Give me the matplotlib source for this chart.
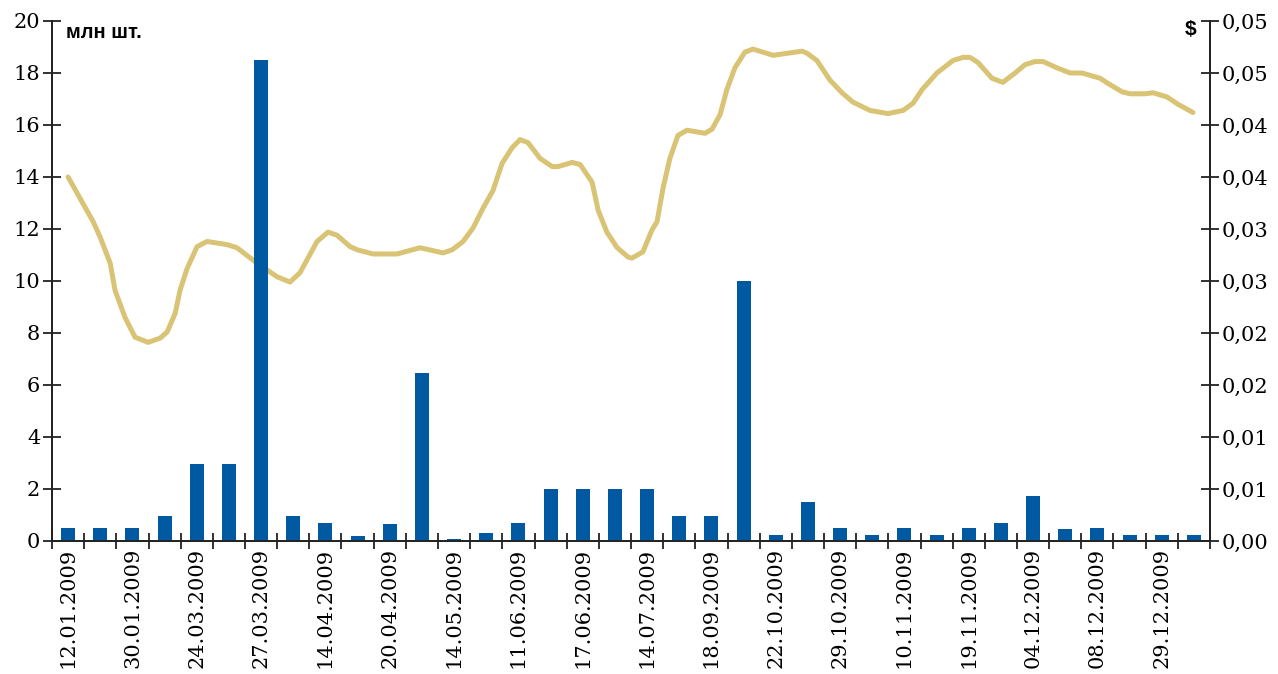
import matplotlib
matplotlib.use("Agg")
import matplotlib.pyplot as plt
import numpy as np

# Trading volume, mln pcs (one bar per date)
volumes = [0.5, 0.5, 0.5, 0.95, 2.95, 2.95, 18.5, 0.95, 0.7, 0.2,
           0.65, 6.45, 0.08, 0.3, 0.7, 2.0, 2.0, 2.0, 2.0, 0.95,
           0.95, 10.0, 0.25, 1.5, 0.5, 0.25, 0.5, 0.25, 0.5, 0.7,
           1.75, 0.45, 0.5, 0.25, 0.25, 0.25]

# Every second date is labelled
date_labels = ["12.01.2009", "30.01.2009", "24.03.2009", "27.03.2009", "14.04.2009",
               "20.04.2009", "14.05.2009", "11.06.2009", "17.06.2009", "14.07.2009",
               "18.09.2009", "22.10.2009", "29.10.2009", "10.11.2009", "19.11.2009",
               "04.12.2009", "08.12.2009", "29.12.2009"]

# Price line, $ (position in bar index units, value)
price_x = [0.0, 0.78, 1.0, 1.31, 1.46, 1.77, 2.08, 2.49, 2.86, 3.08,
           3.33, 3.48, 3.70, 4.01, 4.32, 4.94, 5.25, 5.88, 6.50, 6.90,
           7.21, 7.74, 8.08, 8.36, 8.77, 8.99, 9.48, 10.23, 10.94, 11.66,
           11.94, 12.28, 12.59, 12.90, 13.21, 13.49, 13.80, 14.05, 14.30, 14.67,
           15.05, 15.23, 15.67, 15.92, 16.29, 16.48, 16.75, 17.07, 17.41, 17.53,
           17.87, 18.15, 18.31, 18.50, 18.71, 18.96, 19.24, 19.80, 20.02, 20.27,
           20.48, 20.73, 21.04, 21.29, 21.92, 22.82, 22.97, 23.28, 23.69, 24.06,
           24.40, 24.93, 25.49, 25.96, 26.27, 26.55, 27.01, 27.51, 27.82, 28.04,
           28.29, 28.72, 29.06, 29.44, 29.75, 30.06, 30.31, 30.74, 31.15, 31.52,
           32.08, 32.33, 32.76, 33.01, 33.48, 33.73, 34.16, 34.50, 34.97]
price = [0.0350, 0.0307, 0.0292, 0.0267, 0.0241, 0.0215, 0.0196, 0.0191, 0.0195, 0.0201,
         0.0219, 0.0241, 0.0262, 0.0283, 0.0288, 0.0285, 0.0282, 0.0267, 0.0254, 0.0249,
         0.0258, 0.0288, 0.0297, 0.0294, 0.0283, 0.0280, 0.0276, 0.0276, 0.0282, 0.0277,
         0.0280, 0.0288, 0.0301, 0.0320, 0.0337, 0.0363, 0.0378, 0.0386, 0.0383, 0.0368,
         0.0360, 0.0360, 0.0364, 0.0362, 0.0345, 0.0318, 0.0297, 0.0282, 0.0273, 0.0272,
         0.0278, 0.0299, 0.0307, 0.0340, 0.0368, 0.0390, 0.0395, 0.0392, 0.0396, 0.0410,
         0.0434, 0.0455, 0.0470, 0.0473, 0.0467, 0.0471, 0.0469, 0.0462, 0.0443, 0.0431,
         0.0422, 0.0414, 0.0411, 0.0414, 0.0421, 0.0434, 0.0450, 0.0462, 0.0465, 0.0465,
         0.0460, 0.0445, 0.0441, 0.0450, 0.0458, 0.0461, 0.0461, 0.0455, 0.0450, 0.0450,
         0.0445, 0.0440, 0.0432, 0.0430, 0.0430, 0.0431, 0.0427, 0.0420, 0.0412]

left_ticks = [0, 2, 4, 6, 8, 10, 12, 14, 16, 18, 20]
right_ticks = [0.0, 0.005, 0.01, 0.015, 0.02, 0.025, 0.03, 0.035, 0.04, 0.045, 0.05]
right_tick_labels = ["0,00", "0,01", "0,01", "0,02", "0,02", "0,03",
                     "0,03", "0,04", "0,04", "0,05", "0,05"]

bar_color = "#0059A1"
line_color = "#D9C374"
axis_color = "#222222"
serif = "DejaVu Serif"

fig = plt.figure(figsize=(12.78, 6.74), dpi=100)
ax = fig.add_axes([52 / 1278, 133 / 674, 1158 / 1278, 520 / 674])
ax2 = ax.twinx()

# line on the secondary axis, bars drawn on top of it
ax2.plot(price_x, price, color=line_color, linewidth=3.6,
         solid_capstyle="round", solid_joinstyle="round")
ax.bar(np.arange(len(volumes)), volumes, width=0.44, color=bar_color)
ax.set_zorder(ax2.get_zorder() + 1)
ax.patch.set_visible(False)

ax.set_xlim(-0.5, len(volumes) - 0.5)
ax.set_ylim(0, 20)
ax2.set_ylim(0, 0.05)

for a in (ax, ax2):
    a.spines["top"].set_visible(False)
    for s in ("left", "right", "bottom"):
        a.spines[s].set_color(axis_color)
        a.spines[s].set_linewidth(1.3)

# x ticks at the bar boundaries, labels under every second bar
ax.set_xticks(np.arange(-0.5, len(volumes), 1.0))
ax.set_xticklabels([])
ax.set_xticks(np.arange(0, len(volumes), 2), minor=True)
ax.set_xticklabels(date_labels, minor=True, rotation=90, fontsize=15, family=serif,
                   va="top", ha="center")
ax.tick_params(axis="x", which="major", direction="inout", length=12, width=1.3,
               color=axis_color)
ax.tick_params(axis="x", which="minor", length=0, pad=5)

ax.set_yticks(left_ticks)
ax.set_yticklabels([str(t) for t in left_ticks], fontsize=15, family=serif)
ax.tick_params(axis="y", direction="inout", length=13, width=1.3, color=axis_color, pad=2)

ax2.set_yticks(right_ticks)
ax2.set_yticklabels(right_tick_labels, fontsize=15, family=serif)
ax2.tick_params(axis="y", direction="inout", length=13, width=1.3, color=axis_color, pad=2)

ax.text(0.012, 0.978, "млн шт.", transform=ax.transAxes, fontsize=14.5,
        fontweight="bold", family="Liberation Sans", ha="left", va="center")
ax.text(0.988, 0.984, "$", transform=ax.transAxes, fontsize=15,
        fontweight="bold", family="Liberation Sans", ha="right", va="center")

fig.savefig("out.png", dpi=100)
